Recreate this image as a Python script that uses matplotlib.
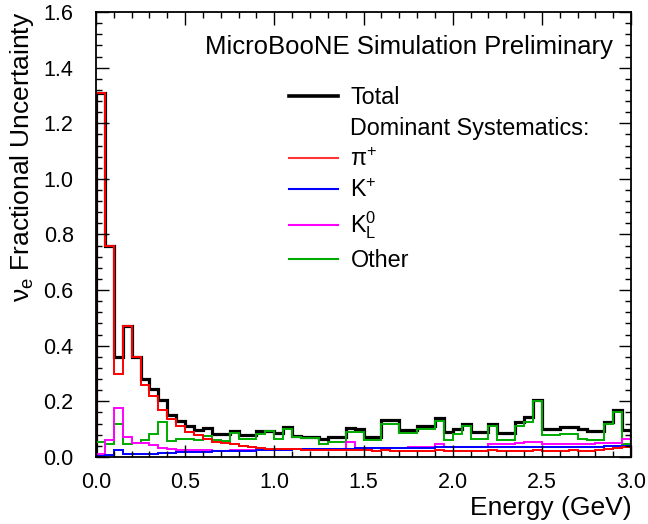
import numpy as np
import matplotlib
matplotlib.use('Agg')
from matplotlib import pyplot as plt
from matplotlib.lines import Line2D
from matplotlib.ticker import MultipleLocator

plt.rcParams['font.family'] = ['Liberation Sans', 'DejaVu Sans']
plt.rcParams['mathtext.default'] = 'regular'

# bin edges in energy (GeV), 0.05 GeV bins
bin_edges = np.arange(0, 3.0 + 0.025, 0.05)

# fractional uncertainty per bin
total = [1.31, 0.76, 0.36, 0.47, 0.36, 0.28, 0.245, 0.205, 0.15, 0.13,
         0.11, 0.098, 0.104, 0.083, 0.083, 0.093, 0.08, 0.078, 0.093, 0.095,
         0.085, 0.108, 0.075, 0.073, 0.073, 0.066, 0.072, 0.072, 0.105, 0.10,
         0.072, 0.072, 0.132, 0.132, 0.098, 0.098, 0.11, 0.11, 0.14, 0.088,
         0.10, 0.12, 0.09, 0.09, 0.12, 0.087, 0.087, 0.126, 0.145, 0.205,
         0.10, 0.10, 0.108, 0.108, 0.10, 0.095, 0.095, 0.126, 0.168, 0.096]
pi_plus = [1.31, 0.76, 0.30, 0.47, 0.36, 0.26, 0.22, 0.17, 0.135, 0.11,
           0.09, 0.08, 0.065, 0.055, 0.05, 0.045, 0.04, 0.035, 0.033, 0.03,
           0.028, 0.028, 0.027, 0.026, 0.025, 0.025, 0.024, 0.024, 0.025, 0.024,
           0.024, 0.023, 0.024, 0.023, 0.022, 0.023, 0.022, 0.022, 0.025, 0.022,
           0.02, 0.021, 0.022, 0.02, 0.024, 0.022, 0.02, 0.022, 0.022, 0.026,
           0.02, 0.02, 0.022, 0.024, 0.022, 0.022, 0.025, 0.028, 0.032, 0.035]
k_plus = [0.004, 0.008, 0.025, 0.01, 0.01, 0.012, 0.012, 0.014, 0.015, 0.016,
          0.017, 0.018, 0.019, 0.02, 0.021, 0.022, 0.022, 0.023, 0.024, 0.025,
          0.026, 0.026, 0.027, 0.028, 0.028, 0.029, 0.029, 0.03, 0.03, 0.031,
          0.031, 0.031, 0.032, 0.032, 0.032, 0.033, 0.033, 0.033, 0.034, 0.034,
          0.034, 0.034, 0.035, 0.035, 0.035, 0.035, 0.035, 0.036, 0.036, 0.036,
          0.036, 0.036, 0.037, 0.037, 0.037, 0.037, 0.037, 0.038, 0.038, 0.038]
k0_long = [0.012, 0.06, 0.175, 0.07, 0.05, 0.05, 0.042, 0.032, 0.027, 0.025,
           0.025, 0.024, 0.024, 0.023, 0.023, 0.024, 0.024, 0.024, 0.025, 0.025,
           0.026, 0.026, 0.027, 0.027, 0.028, 0.028, 0.029, 0.03, 0.054, 0.03,
           0.03, 0.031, 0.032, 0.033, 0.033, 0.034, 0.035, 0.036, 0.048, 0.035,
           0.035, 0.036, 0.036, 0.037, 0.046, 0.046, 0.047, 0.05, 0.052, 0.054,
           0.048, 0.046, 0.046, 0.047, 0.048, 0.048, 0.05, 0.05, 0.05, 0.065]
other = [0.052, 0.047, 0.12, 0.045, 0.05, 0.06, 0.082, 0.127, 0.058, 0.063,
         0.065, 0.062, 0.075, 0.06, 0.057, 0.085, 0.065, 0.065, 0.082, 0.095,
         0.066, 0.10, 0.07, 0.068, 0.068, 0.046, 0.052, 0.052, 0.088, 0.088,
         0.06, 0.06, 0.12, 0.12, 0.085, 0.085, 0.10, 0.10, 0.128, 0.06,
         0.082, 0.11, 0.066, 0.066, 0.11, 0.06, 0.06, 0.11, 0.126, 0.20,
         0.08, 0.08, 0.084, 0.084, 0.066, 0.06, 0.06, 0.118, 0.16, 0.045]

fig = plt.figure(figsize=(6.48, 5.24), dpi=100)
ax = fig.add_axes([0.148, 0.128, 0.826, 0.849])

ax.stairs(total, bin_edges, color='black', linewidth=2.3)
ax.stairs(other, bin_edges, color='#00aa00', linewidth=1.4)
ax.stairs(k0_long, bin_edges, color='#ff00ff', linewidth=1.4)
ax.stairs(k_plus, bin_edges, color='#0000ff', linewidth=1.4)
ax.stairs(pi_plus, bin_edges, color='#ff0000', linewidth=1.4)

ax.set_xlim(0, 3.0)
ax.set_ylim(0, 1.6)
ax.xaxis.set_major_locator(MultipleLocator(0.5))
ax.xaxis.set_minor_locator(MultipleLocator(0.1))
ax.yaxis.set_major_locator(MultipleLocator(0.2))
ax.yaxis.set_minor_locator(MultipleLocator(0.04))
ax.xaxis.set_major_formatter(matplotlib.ticker.FormatStrFormatter('%.1f'))
ax.yaxis.set_major_formatter(matplotlib.ticker.FormatStrFormatter('%.1f'))
ax.tick_params(which='both', direction='in', top=True, right=True, width=1)
ax.tick_params(which='major', length=9, labelsize=15.5)
ax.tick_params(axis='x', which='major', pad=11)
ax.tick_params(axis='y', which='major', pad=16)
ax.tick_params(which='minor', length=4.5)
for s in ax.spines.values():
    s.set_linewidth(1.3)

ax.set_xlabel('Energy (GeV)', fontsize=19, loc='right', labelpad=2)
ax.set_ylabel('$\u03bd_e$ Fractional Uncertainty', fontsize=19, loc='top', labelpad=5)

ax.text(0.965, 0.905, 'MicroBooNE Simulation Preliminary', transform=ax.transAxes,
        ha='right', va='baseline', fontsize=18.5)

handles = [Line2D([], [], color='black', linewidth=2.6),
           Line2D([], [], color='none'),
           Line2D([], [], color='#ff3333', linewidth=1.5),
           Line2D([], [], color='#0000ff', linewidth=1.5),
           Line2D([], [], color='#ff00ff', linewidth=1.5),
           Line2D([], [], color='#00aa00', linewidth=1.5)]
labels = ['Total', 'Dominant Systematics:', '\u03c0$^{+}$', 'K$^{+}$', 'K$^{0}_{L}$', 'Other']
ax.legend(handles, labels, loc='upper left', bbox_to_anchor=(0.36, 0.834),
          frameon=False, fontsize=16.8, handlelength=2.1, handletextpad=0.55,
          labelspacing=0.34, borderpad=0, borderaxespad=0)

fig.savefig('out.png', dpi=100)
